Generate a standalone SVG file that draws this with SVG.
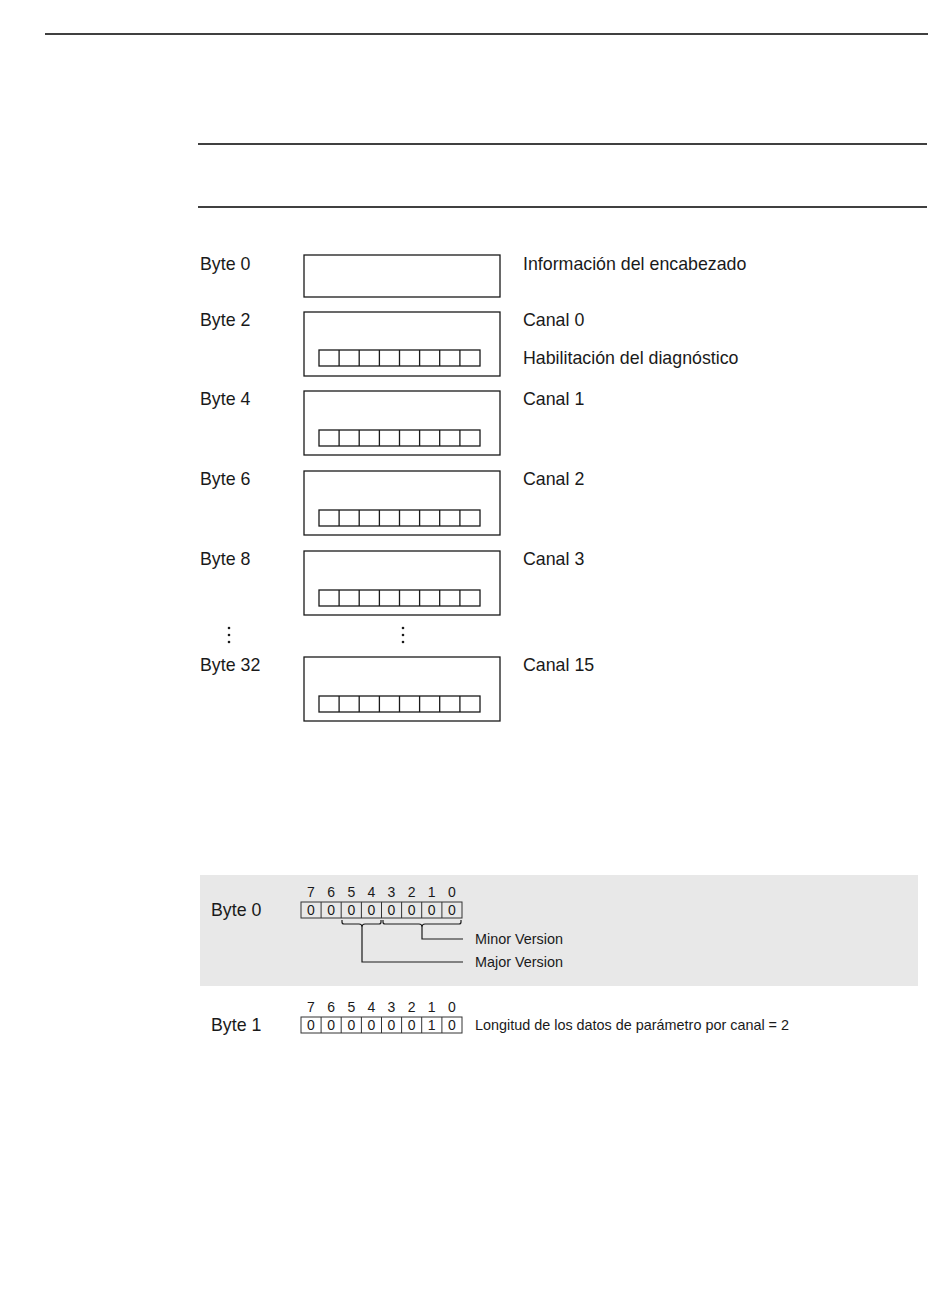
<svg xmlns="http://www.w3.org/2000/svg" width="950" height="1301" viewBox="0 0 950 1301">
<style>
text{font-family:"Liberation Sans",Arial,sans-serif;fill:#1a1a1a}
.lbl{font-size:17.8px}
.sm{font-size:14.4px}
.num{font-size:14px;text-anchor:middle}
.box{fill:#fff;stroke:#1a1a1a;stroke-width:1.3}
.bits{fill:none;stroke:#1a1a1a;stroke-width:1.3}
.rule{stroke:#000;stroke-width:1.3}
.cell{fill:none;stroke:#333;stroke-width:1}
.ln{fill:none;stroke:#1a1a1a;stroke-width:1.2}
</style>
<defs>
<g id="bitrow">
<rect class="bits" x="0" y="0" width="161" height="16"/>
<path class="bits" d="M20.1 0V16M40.2 0V16M60.4 0V16M80.5 0V16M100.6 0V16M120.7 0V16M140.9 0V16"/>
</g>
<g id="cells">
<rect class="cell" x="0" y="0" width="161" height="16"/>
<path class="cell" d="M20.1 0V16M40.2 0V16M60.4 0V16M80.5 0V16M100.6 0V16M120.7 0V16M140.9 0V16"/>
</g>
</defs>
<line class="rule" x1="45" y1="34" x2="928" y2="34"/>
<line class="rule" x1="198" y1="144" x2="927" y2="144"/>
<line class="rule" x1="198" y1="207" x2="927" y2="207"/>

<g id="byte0">
<text class="lbl" x="200" y="269.5">Byte 0</text>
<rect class="box" x="304" y="255" width="196" height="42"/>
<text class="lbl" x="523" y="269.5">Información del encabezado</text>
</g>
<g id="byte2">
<text class="lbl" x="200" y="325.5">Byte 2</text>
<rect class="box" x="304" y="312" width="196" height="64"/>
<use href="#bitrow" x="319" y="350"/>
<text class="lbl" x="523" y="325.5">Canal 0</text>
<text class="lbl" x="523" y="363.5">Habilitación del diagnóstico</text>
</g>
<g id="byte4">
<text class="lbl" x="200" y="404.5">Byte 4</text>
<rect class="box" x="304" y="391" width="196" height="64"/>
<use href="#bitrow" x="319" y="430"/>
<text class="lbl" x="523" y="404.5">Canal 1</text>
</g>
<g id="byte6">
<text class="lbl" x="200" y="484.5">Byte 6</text>
<rect class="box" x="304" y="471" width="196" height="64"/>
<use href="#bitrow" x="319" y="510"/>
<text class="lbl" x="523" y="484.5">Canal 2</text>
</g>
<g id="byte8">
<text class="lbl" x="200" y="564.5">Byte 8</text>
<rect class="box" x="304" y="551" width="196" height="64"/>
<use href="#bitrow" x="319" y="590"/>
<text class="lbl" x="523" y="564.5">Canal 3</text>
</g>
<g id="dots" fill="#1a1a1a">
<circle cx="229" cy="628" r="1.3"/><circle cx="229" cy="635" r="1.3"/><circle cx="229" cy="642" r="1.3"/>
<circle cx="403" cy="628" r="1.3"/><circle cx="403" cy="635" r="1.3"/><circle cx="403" cy="642" r="1.3"/>
</g>
<g id="byte32">
<text class="lbl" x="200" y="671">Byte 32</text>
<rect class="box" x="304" y="657" width="196" height="64"/>
<use href="#bitrow" x="319" y="696"/>
<text class="lbl" x="523" y="671">Canal 15</text>
</g>

<g id="header-byte0">
<rect x="200" y="875" width="718" height="111" fill="#e8e8e8"/>
<text class="lbl" x="211" y="916">Byte 0</text>
<text class="num" x="311" y="897">7</text><text class="num" x="331.2" y="897">6</text><text class="num" x="351.3" y="897">5</text><text class="num" x="371.4" y="897">4</text><text class="num" x="391.5" y="897">3</text><text class="num" x="411.6" y="897">2</text><text class="num" x="431.7" y="897">1</text><text class="num" x="451.8" y="897">0</text>
<use href="#cells" x="301" y="902"/>
<text class="num" x="311" y="915">0</text><text class="num" x="331.2" y="915">0</text><text class="num" x="351.3" y="915">0</text><text class="num" x="371.4" y="915">0</text><text class="num" x="391.5" y="915">0</text><text class="num" x="411.6" y="915">0</text><text class="num" x="431.7" y="915">0</text><text class="num" x="451.8" y="915">0</text>
</g>
<g id="connectors">
<path class="ln" d="M342 920V922Q342 924 344 924H359Q362 924 362 927Q362 924 365 924H379Q381 924 381 922V920"/>
<path class="ln" d="M383 920V922Q383 924 385 924H419Q422 924 422 927Q422 924 425 924H459Q461 924 461 922V920"/>
<path class="ln" d="M422 927V939H463"/>
<path class="ln" d="M362 927V962H463"/>
</g>
<g id="versions">
<text class="sm" x="475" y="944">Minor Version</text>
<text class="sm" x="475" y="967">Major Version</text>
</g>
<g id="header-byte1">
<text class="lbl" x="211" y="1031">Byte 1</text>
<text class="num" x="311" y="1012">7</text><text class="num" x="331.2" y="1012">6</text><text class="num" x="351.3" y="1012">5</text><text class="num" x="371.4" y="1012">4</text><text class="num" x="391.5" y="1012">3</text><text class="num" x="411.6" y="1012">2</text><text class="num" x="431.7" y="1012">1</text><text class="num" x="451.8" y="1012">0</text>
<use href="#cells" x="301" y="1017"/>
<text class="num" x="311" y="1030">0</text><text class="num" x="331.2" y="1030">0</text><text class="num" x="351.3" y="1030">0</text><text class="num" x="371.4" y="1030">0</text><text class="num" x="391.5" y="1030">0</text><text class="num" x="411.6" y="1030">0</text><text class="num" x="431.7" y="1030">1</text><text class="num" x="451.8" y="1030">0</text>
<text class="sm" x="475" y="1030">Longitud de los datos de parámetro por canal = 2</text>
</g>
</svg>
